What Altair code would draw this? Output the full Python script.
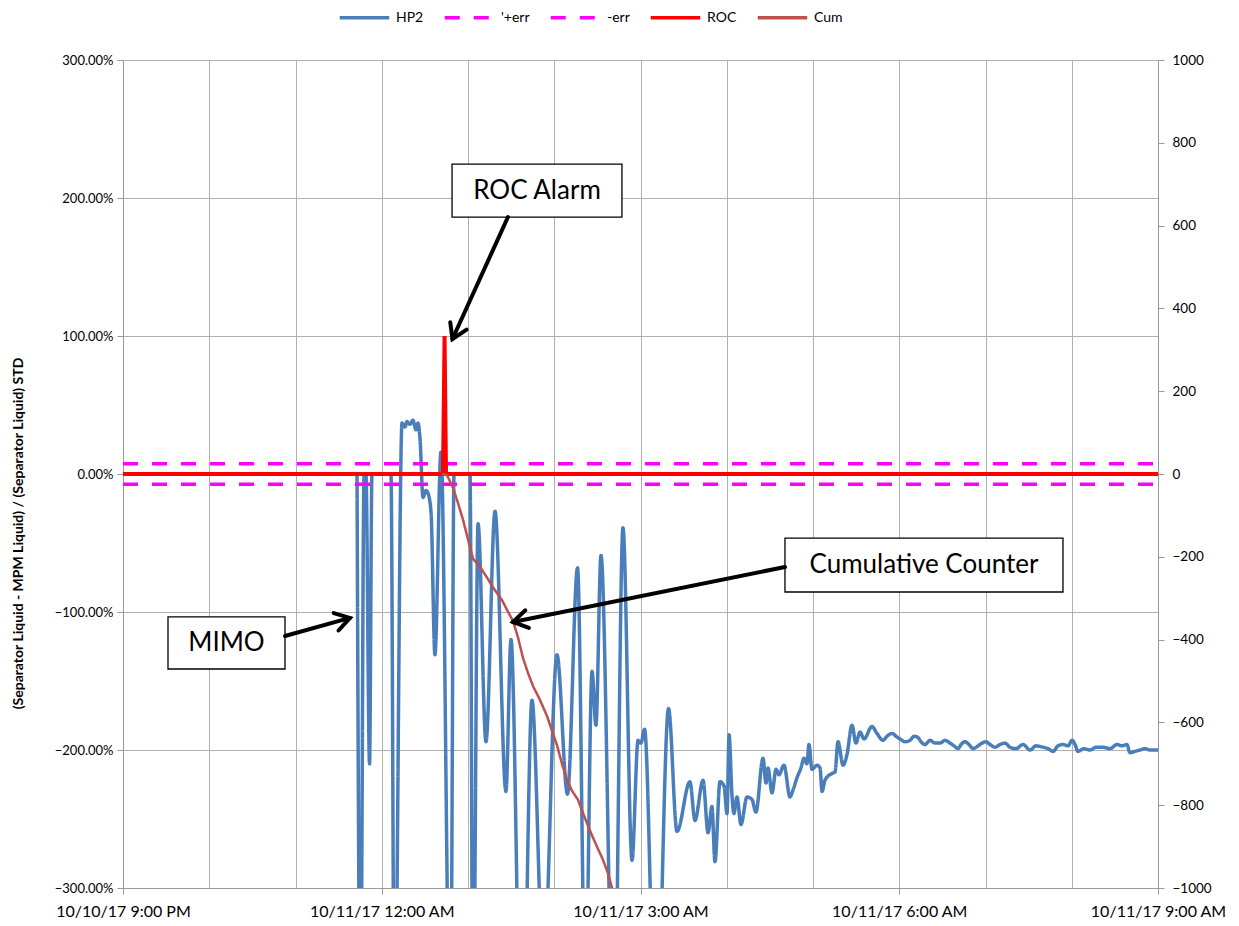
import altair as alt
import pandas as pd
import numpy as np

BASE = pd.Timestamp("2017-10-10 21:00")

# ---------------- data (minutes after 10/10/17 9:00 PM) ----------------
hp2_min_a = [162.8, 165.2, 167.7, 169.0, 171.5, 173.2, 186.4, 188.9, 194.1, 196.2,
             197.6, 199.7, 201.7, 203.8, 205.2, 206.6, 208.7, 210.8, 212.2, 214.3,
             217.0, 221.2, 227.8, 230.3, 241.4, 243.5, 247.0, 252.5, 258.8, 266.4,
             269.9, 277.6, 284.5, 292.5, 301.9, 309.2, 316.2, 321.7, 326.3, 329.0,
             332.5, 341.6, 347.8, 354.1, 358.3, 360.3, 362.8, 370.8, 379.5, 385.4]
hp2_pct_a = [0, -420, 0, 0, -210, 0, 0, -420, 37, 34,
             38, 36, 39, 32, 37, 26, -17, -12, -14, -28,
             -131, 16, -420, 0, 0, -420, -36, -194, -27, -230,
             -120, -450, -164, -360, -131, -232, -68, -380, -143, -182,
             -59, -420, -39, -280, -193, -195, -185, -420, -170, -259]

hp2_min_b = [394.4, 397.9, 403.5, 407.0, 409.7, 411.8, 415.3, 418.1, 420.2, 421.6,
             423.7, 425.0, 427.1, 429.9, 434.1, 437.6, 440.3, 445.2, 447.3, 448.7,
             451.5, 454.3, 456.3, 459.8, 464.0, 466.1, 468.9, 471.6, 473.7, 475.8,
             477.2, 479.3, 482.8, 484.9, 486.3, 488.3, 493.2, 495.3, 497.4, 500.9,
             503.7, 507.1, 509.9, 512.7, 515.5, 521.0, 524.5]
hp2_pct_b = [-223, -251, -222, -260, -241, -281, -223, -226, -246, -189,
             -234, -246, -234, -254, -234, -236, -245, -206, -224, -213,
             -231, -214, -218, -211, -234, -229, -220, -213, -206, -210,
             -196, -214, -211, -213, -230, -222, -217, -216, -194, -211,
             -203, -182, -195, -187, -192, -183, -188]

hp2_min_c = [528.7, 531.5, 535.0, 537.7, 540.5, 544.0, 547.5, 550.3, 553.0, 555.1,
             557.9, 561.4, 564.8, 568.4, 571.8, 575.3, 578.1, 580.9, 583.0, 585.7,
             588.5, 591.3, 594.8, 597.6, 600.3, 603.1, 606.6, 610.1, 613.6, 617.0,
             621.2, 626.1, 631.0, 635.1, 640.0, 643.5, 647.0, 650.4, 653.9, 657.4,
             660.2, 662.3, 664.3, 668.5, 672.7, 676.9, 681.7, 686.6, 691.5, 694.9,
             698.4, 700.5, 704.0, 707.5, 711.0, 714.4, 720.0]
hp2_pct_c = [-193, -190, -188, -190, -192, -194, -193, -190, -191, -194,
             -196, -193, -195, -195, -193, -195, -197, -199, -196, -194,
             -196, -199, -197, -195, -194, -196, -198, -196, -195, -198,
             -199, -196, -200, -197, -198, -199, -201, -197, -196, -197,
             -193, -196, -201, -199, -200, -198, -198, -199, -196, -197,
             -196, -202, -201, -200, -199, -200, -200]

cum_min = [221.9, 225.4, 229.6, 233.0, 236.5, 240.0, 243.5, 246.3, 248.3, 253.2,
           256.7, 260.2, 263.7, 267.1, 271.3, 274.8, 278.3, 281.7, 285.2, 290.1,
           295.0, 298.4, 301.9, 305.4, 308.9, 312.3, 316.5, 320.7, 324.9, 329.7,
           333.9, 337.4, 340.2, 342.3]
cum_val = [0, -3, -33, -70, -110, -158, -205, -216, -224, -250,
           -270, -288, -305, -328, -355, -395, -445, -480, -512, -546,
           -585, -620, -655, -700, -739, -765, -787, -825, -862, -900,
           -932, -965, -1000, -1030]

roc_min = [0, 222.6, 223.7, 224.7, 720]
roc_pct = [0, 0, 100, 0, 0]

err_min = [0, 720]
err_plus = 7.5
err_minus = -7.5

series_names = ["HP2", "'+err", "-err", "ROC", "Cum"]
series_colors = ["#4A7EBB", "#FF00FF", "#FF00FF", "#FF0000", "#C0504D"]
series_dash = [[1, 0], [15, 14], [15, 14], [1, 0], [1, 0]]

left_ticks = [-300, -200, -100, 0, 100, 200, 300]
right_ticks = [-1000, -800, -600, -400, -200, 0, 200, 400, 600, 800, 1000]
grid_hours = list(range(13))
label_hours = [0, 3, 6, 9, 12]

y_title = "(Separator Liquid - MPM Liquid) / (Separator Liquid) STD"

# annotations (minutes, percent)
ann_labels = ["ROC Alarm", "MIMO", "Cumulative Counter"]
ann_box_x = [(228.9, 347.1), (31.3, 112.7), (460.5, 653.9)]
ann_box_y = [(224.6, 186.2), (-103.6, -141.3), (-46.4, -85.5)]
ann_text_x = [288.0, 72.0, 557.2]
ann_text_y = [205.4, -122.5, -65.9]
arrow_from = [(267.8, 186.2), (112.7, -117.4), (460.5, -67.4)]
arrow_tip = [(229.2, 97.8), (157.9, -104.3), (271.3, -107.2)]

# ---------------- helpers ----------------
W, H = 1035, 828
PPM = W / 720.0
PPP = H / 600.0


def ts(minutes):
    t = BASE + pd.to_timedelta(np.asarray(minutes, dtype=float), unit="m")
    return pd.Series(t).dt.round("s").dt.strftime("%Y-%m-%dT%H:%M:%S").tolist()


def dt(h):
    t = 21 + h
    return alt.DateTime(year=2017, month=10, date=10 if t < 24 else 11,
                        hours=t % 24, minutes=0)


FONT = "Lato"
GRID = "#B0B0B0"
AXC = "#999999"

xscale = alt.Scale(domain=[dt(0), dt(12)], nice=False)
lscale = alt.Scale(domain=[-300, 300], nice=False, zero=False)
rscale = alt.Scale(domain=[-1000, 1000], nice=False, zero=False)

x_grid = alt.X("time:T", scale=xscale, title=None,
               axis=alt.Axis(values=[dt(h) for h in grid_hours], grid=True,
                             gridColor=GRID, gridWidth=1, labels=False,
                             ticks=False, domain=False, orient="bottom"))
x_lab = alt.X("time:T", scale=xscale, title=None,
              axis=alt.Axis(values=[dt(h) for h in label_hours], grid=False,
                            format="%m/%d/%y %-I:%M %p", labelFont=FONT,
                            labelFontSize=16, labelColor="black",
                            labelPadding=9, tickSize=6, tickColor=AXC,
                            domainColor=AXC, orient="bottom",
                            labelFlush=False, labelOverlap=False))
x_none = alt.X("time:T", scale=xscale, axis=None)

y_left = alt.Y("pct:Q", scale=lscale, title=y_title,
               axis=alt.Axis(values=left_ticks, grid=True, gridColor=GRID,
                             gridWidth=1, labelExpr="format(datum.value, '.2f') + '%'",
                             labelFont=FONT, labelFontSize=13, labelColor="black",
                             tickSize=6, tickColor=AXC, domainColor=AXC,
                             labelPadding=4, titleFont=FONT, titleFontSize=14,
                             titleFontWeight="bold", titleColor="black",
                             titleX=-105, titleY=473, titleBaseline="middle",
                             titleAlign="center", orient="left"))
y_none = alt.Y("pct:Q", scale=lscale, axis=None)
y_right = alt.Y("val:Q", scale=rscale, title=None,
                axis=alt.Axis(values=right_ticks, grid=False, orient="right",
                              format="d", labelFont=FONT, labelFontSize=13.5,
                              labelColor="black", tickSize=6, tickColor=AXC,
                              domainColor=AXC, labelPadding=8, labelAlign="left"))

legend = alt.Legend(orient="none", legendX=215, legendY=-69, direction="horizontal",
                    columns=5, symbolType="stroke", symbolSize=2450,
                    symbolStrokeWidth=3.5, labelFont=FONT, labelFontSize=14,
                    labelColor="black", columnPadding=13, labelOffset=5,
                    title=None, padding=0)
color = alt.Color("series:N", scale=alt.Scale(domain=series_names, range=series_colors),
                  legend=legend)
dash = alt.StrokeDash("series:N", scale=alt.Scale(domain=series_names, range=series_dash),
                      legend=legend)

# ---------------- tables ----------------
df_hp2 = pd.DataFrame({"time": ts(hp2_min_a + hp2_min_b + hp2_min_c),
                       "pct": hp2_pct_a + hp2_pct_b + hp2_pct_c, "series": "HP2"})
df_err = pd.concat([
    pd.DataFrame({"time": ts(err_min), "pct": [err_plus] * 2, "series": "'+err"}),
    pd.DataFrame({"time": ts(err_min), "pct": [err_minus] * 2, "series": "-err"}),
])
df_roc = pd.DataFrame({"time": ts(roc_min), "pct": roc_pct, "series": "ROC"})
df_cum = pd.DataFrame({"time": ts(cum_min), "val": cum_val, "series": "Cum"})

df_box = pd.DataFrame({
    "time": ts([b[0] for b in ann_box_x]), "time2": ts([b[1] for b in ann_box_x]),
    "pct": [b[0] for b in ann_box_y], "pct2": [b[1] for b in ann_box_y],
})
df_text = pd.DataFrame({"time": ts(ann_text_x), "pct": ann_text_y, "label": ann_labels})

rows = []
for i, ((fx, fy), (tx, ty)) in enumerate(zip(arrow_from, arrow_tip)):
    sx, sy = fx * PPM, -fy * PPP
    ex, ey = tx * PPM, -ty * PPP
    d = np.array([ex - sx, ey - sy])
    d = d / np.linalg.norm(d)
    rows.append({"part": f"s{i}", "ord": 0, "m": fx, "pct": fy})
    rows.append({"part": f"s{i}", "ord": 1, "m": tx, "pct": ty})
    L = 17.0
    ang = np.deg2rad(32)
    wings = []
    for sgn in (1, -1):
        c, s = np.cos(sgn * ang), np.sin(sgn * ang)
        r = np.array([c * d[0] - s * d[1], s * d[0] + c * d[1]])
        wx, wy = ex - L * r[0], ey - L * r[1]
        wings.append((wx / PPM, -wy / PPP))
    rows.append({"part": f"h{i}", "ord": 0, "m": wings[0][0], "pct": wings[0][1]})
    rows.append({"part": f"h{i}", "ord": 1, "m": tx, "pct": ty})
    rows.append({"part": f"h{i}", "ord": 2, "m": wings[1][0], "pct": wings[1][1]})
df_arrow = pd.DataFrame(rows)
df_arrow["time"] = ts(df_arrow["m"].tolist())
df_arrow = df_arrow.drop(columns=["m"])

# ---------------- layers ----------------
hp2 = alt.Chart(df_hp2).mark_line(strokeWidth=3.5, interpolate="monotone", clip=True).encode(
    x=x_grid, y=y_left, color=color, strokeDash=dash)
err = alt.Chart(df_err).mark_line(strokeWidth=3.5, clip=True).encode(
    x=x_lab, y=y_none, color=color, strokeDash=dash, detail="series:N")
roc = alt.Chart(df_roc).mark_line(strokeWidth=4, clip=True).encode(
    x=x_none, y=y_none, color=color, strokeDash=dash)
cum = alt.Chart(df_cum).mark_line(strokeWidth=2.5, clip=True).encode(
    x=x_none, y=y_right, color=color, strokeDash=dash)
box = alt.Chart(df_box).mark_rect(fill="white", stroke="black", strokeWidth=1.3).encode(
    x=x_none, x2="time2:T", y=y_none, y2="pct2:Q")
txt = alt.Chart(df_text).mark_text(font=FONT, fontSize=26, color="black",
                                   baseline="middle", align="center").encode(
    x=x_none, y=y_none, text="label:N")
arr = alt.Chart(df_arrow).mark_line(color="black", strokeWidth=4, strokeCap="round",
                                    strokeJoin="miter").encode(
    x=x_none, y=y_none, detail="part:N", order="ord:Q")

chart = alt.layer(hp2, err, roc, cum, box, txt, arr).resolve_scale(
    y="independent").resolve_axis(x="independent").properties(
    width=W, height=H,
    padding={"left": 115, "top": 52, "right": 73, "bottom": 35},
    autosize=alt.AutoSizeParams(type="none"),
).configure_view(stroke=None).configure(background="white")

chart.save("out.html", embed_options={"renderer": "svg", "actions": False})
